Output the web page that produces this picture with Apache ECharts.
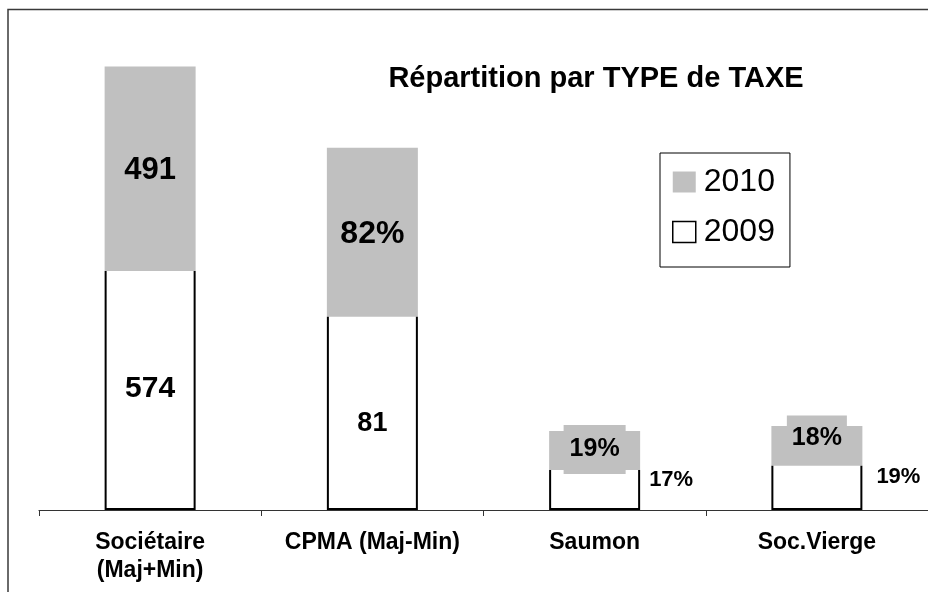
<!DOCTYPE html>
<html>
<head>
<meta charset="utf-8">
<script src="https://cdn.jsdelivr.net/npm/echarts@6/dist/echarts.min.js"></script>
<style>
  html, body { margin: 0; padding: 0; background: #fff; }
  #main { width: 928px; height: 592px; }
</style>
</head>
<body>
<div id="main"></div>
<script>
// catégories et valeurs
var categories = ['Sociétaire\n(Maj+Min)', 'CPMA (Maj-Min)', 'Saumon', 'Soc.Vierge'];
var values2009 = [574, 464, 96, 106];
var values2010 = [491, 406, 94, 96];
// textes affichés sur les barres
var labels2009 = ['574', '81', '17%', '19%'];
var labels2010 = ['491', '82%', '19%', '18%'];

// style des étiquettes, barre par barre
var labelStyle2009 = [
    { position: 'inside', fontSize: 30, offset: [0, -2] },
    { position: 'inside', fontSize: 27, offset: [0, 10] },
    { position: 'right', fontSize: 22, distance: 9, offset: [0, -10] },
    { position: 'right', fontSize: 22, distance: 14, offset: [0, -11] }
];
var labelStyle2010 = [
    { position: 'inside', fontSize: 31, offset: [0, 2] },
    { position: 'inside', fontSize: 32, offset: [0, 2], backgroundColor: '#c0c0c0', padding: [16, 6] },
    { position: 'inside', fontSize: 25, offset: [0, -1], backgroundColor: '#c0c0c0', padding: [12, 6] },
    { position: 'inside', fontSize: 25, offset: [0, -8], backgroundColor: '#c0c0c0', padding: [10, 5] }
];

var FONT = 'Liberation Sans, Arial, sans-serif';
var GREY = '#c0c0c0';
var BAR_W = 91;

function buildData(values, labels, styles) {
    return values.map(function (v, i) {
        return {
            value: v,
            label: Object.assign({ formatter: labels[i] }, styles[i])
        };
    });
}

// contour des barres 2009 : côtés et bas seulement (pas de trait en haut)
function renderOutline(params, api) {
    var base = api.coord([api.value(0), 0]);
    var top = api.coord([api.value(0), api.value(1)]);
    var half = BAR_W / 2 - 1;
    return {
        type: 'polyline',
        z2: 10,
        shape: {
            points: [
                [base[0] - half, top[1]],
                [base[0] - half, base[1] - 1],
                [base[0] + half, base[1] - 1],
                [base[0] + half, top[1]]
            ]
        },
        style: { stroke: '#000', fill: null, lineWidth: 2 },
        silent: true
    };
}

var myChart = echarts.init(document.getElementById('main'));
myChart.setOption({
    animation: false,
    backgroundColor: '#fff',
    graphic: [
        {
            type: 'rect',
            shape: { x: 8, y: 9.5, width: 1000, height: 1000 },
            style: { fill: 'none', stroke: '#3a3a3a', lineWidth: 1.5 },
            silent: true
        },
        {
            type: 'text',
            x: 596,
            y: 79,
            style: {
                text: 'Répartition par TYPE de TAXE',
                fill: '#000',
                font: 'bold 29px ' + FONT,
                align: 'center',
                verticalAlign: 'middle'
            }
        }
    ],
    legend: {
        orient: 'vertical',
        left: 660,
        top: 153,
        padding: [13, 15, 19, 12],
        itemGap: 18,
        itemWidth: 23,
        itemHeight: 21,
        borderColor: '#000',
        borderWidth: 1,
        icon: 'rect',
        textStyle: { fontSize: 32, fontFamily: FONT, color: '#000', padding: [0, 0, 0, 3] },
        data: [
            { name: '2010', itemStyle: { borderWidth: 0 } },
            { name: '2009', itemStyle: { color: '#fff', borderColor: '#000', borderWidth: 1.5 } }
        ]
    },
    grid: {
        left: 39,
        top: 52,
        width: 894,
        bottom: 82
    },
    xAxis: {
        type: 'category',
        data: categories,
        axisLine: { show: true, lineStyle: { color: '#333', width: 1.2 } },
        axisTick: { show: true, length: 6, lineStyle: { color: '#333' } },
        axisLabel: {
            interval: 0,
            margin: 19,
            fontSize: 23,
            lineHeight: 28,
            fontWeight: 'bold',
            fontFamily: FONT,
            color: '#000'
        }
    },
    yAxis: {
        type: 'value',
        min: 0,
        max: 1100,
        show: false
    },
    series: [
        {
            name: '2009',
            type: 'bar',
            stack: 'total',
            barWidth: BAR_W,
            z: 2,
            itemStyle: { color: '#fff' },
            label: { show: true, color: '#000', fontWeight: 'bold', fontFamily: FONT },
            data: buildData(values2009, labels2009, labelStyle2009)
        },
        {
            name: '2010',
            type: 'bar',
            stack: 'total',
            barWidth: BAR_W,
            z: 3,
            itemStyle: { color: GREY },
            label: { show: true, color: '#000', fontWeight: 'bold', fontFamily: FONT },
            data: buildData(values2010, labels2010, labelStyle2010)
        },
        {
            name: 'contour2009',
            type: 'custom',
            z: 4,
            renderItem: renderOutline,
            encode: { x: 0, y: 1 },
            data: values2009.map(function (v, i) { return [i, v]; })
        }
    ]
});
</script>
</body>
</html>
